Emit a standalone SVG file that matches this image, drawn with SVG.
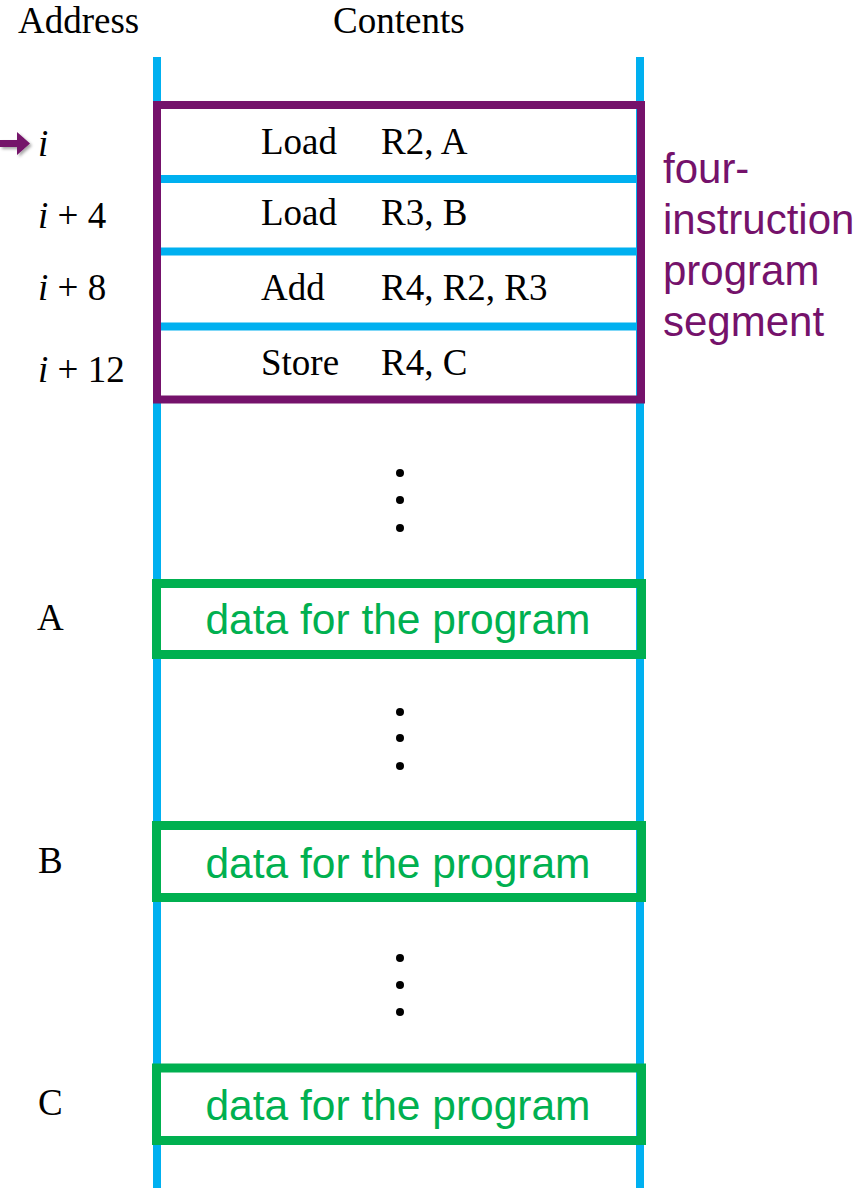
<svg xmlns="http://www.w3.org/2000/svg" width="860" height="1188" viewBox="0 0 860 1188">
<style>
.serif{font-family:"Liberation Serif","Times New Roman",serif;font-size:37px;fill:#000}
.it{font-style:italic}
.blue{stroke:#00B0F0;stroke-width:8;fill:none}
.seg{fill:none;stroke:#75126B;stroke-width:8}
.data{fill:none;stroke:#00B050;stroke-width:9}
.dtxt{font-family:"Liberation Sans",Arial,sans-serif;font-size:42.5px;fill:#00B050;text-anchor:middle}
.ptxt{font-family:"Liberation Sans",Arial,sans-serif;font-size:42px;fill:#75126B}
.dot{fill:#000}
</style>
<defs>
<filter id="sh" x="-50%" y="-50%" width="200%" height="200%">
<feDropShadow dx="2" dy="2" stdDeviation="1.5" flood-color="#000" flood-opacity="0.35"/>
</filter>
</defs>
<rect width="860" height="1188" fill="#fff"/>
<g id="headers">
<text class="serif" x="18" y="33">Address</text>
<text class="serif" x="333" y="33">Contents</text>
</g>
<g id="memory-column">
<line class="blue" x1="157" y1="57" x2="157" y2="1188"/>
<line class="blue" x1="640" y1="57" x2="640" y2="1188"/>
<line class="blue" x1="161" y1="179" x2="637" y2="179"/>
<line class="blue" x1="161" y1="251.5" x2="637" y2="251.5"/>
<line class="blue" x1="161" y1="326.5" x2="637" y2="326.5"/>
</g>
<g id="program-segment">
<rect class="seg" x="157" y="105" width="484" height="294.5"/>
<text class="serif" x="261" y="154">Load</text><text class="serif" x="381" y="154">R2, A</text>
<text class="serif" x="261" y="225">Load</text><text class="serif" x="381" y="225">R3, B</text>
<text class="serif" x="261" y="300">Add</text><text class="serif" x="381" y="300">R4, R2, R3</text>
<text class="serif" x="261" y="375">Store</text><text class="serif" x="381" y="375">R4, C</text>
</g>
<g id="segment-label">
<text class="ptxt" x="663" y="183">four-</text>
<text class="ptxt" x="663" y="234">instruction</text>
<text class="ptxt" x="663" y="285">program</text>
<text class="ptxt" x="663" y="336">segment</text>
</g>
<g id="addresses">
<text class="serif" x="38" y="156"><tspan class="it">i</tspan></text>
<text class="serif" x="38" y="228"><tspan class="it">i</tspan> + 4</text>
<text class="serif" x="38" y="300"><tspan class="it">i</tspan> + 8</text>
<text class="serif" x="38" y="382"><tspan class="it">i</tspan> + 12</text>
<text class="serif" x="37" y="630">A</text>
<text class="serif" x="38" y="873">B</text>
<text class="serif" x="38" y="1115">C</text>
</g>
<g id="pointer">
<path d="M0,140 L17,140 L17,132 L30,143.5 L17,155 L17,147 L0,147 Z" fill="#75126B" filter="url(#sh)"/>
</g>
<g id="data-A">
<rect class="data" x="156.5" y="583.5" width="485" height="71"/>
<text class="dtxt" x="398" y="634">data for the program</text>
</g>
<g id="data-B">
<rect class="data" x="156.5" y="825.5" width="485" height="72"/>
<text class="dtxt" x="398" y="878">data for the program</text>
</g>
<g id="data-C">
<rect class="data" x="156.5" y="1068" width="485" height="72.5"/>
<text class="dtxt" x="398" y="1120">data for the program</text>
</g>
<g id="ellipses">
<circle class="dot" cx="400" cy="473" r="4"/>
<circle class="dot" cx="400" cy="500" r="4"/>
<circle class="dot" cx="400" cy="528" r="4"/>
<circle class="dot" cx="400" cy="712" r="4"/>
<circle class="dot" cx="400" cy="738" r="4"/>
<circle class="dot" cx="400" cy="766" r="4"/>
<circle class="dot" cx="400" cy="958" r="4"/>
<circle class="dot" cx="400" cy="985" r="4"/>
<circle class="dot" cx="400" cy="1012" r="4"/>
</g>
</svg>
